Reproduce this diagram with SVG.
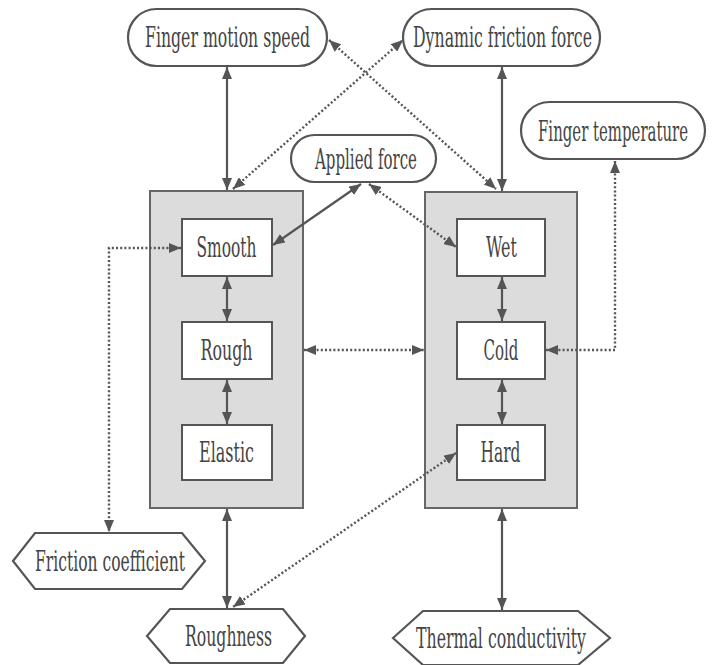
<svg xmlns="http://www.w3.org/2000/svg" width="719" height="665" viewBox="0 0 719 665">
<style>
.pill{fill:#fff;stroke:#555;stroke-width:2.2}
.grp{fill:#dcdcdc;stroke:#666;stroke-width:2}
.box{fill:#fff;stroke:#555;stroke-width:2}
.hex{fill:#fff;stroke:#555;stroke-width:2.2}
.t{font-family:"DejaVu Serif","Liberation Serif",serif;font-size:27px;fill:#444;text-anchor:middle}
.s{fill:none;stroke:#555;stroke-width:2.2}
.d{fill:none;stroke:#555;stroke-width:2.4;stroke-dasharray:2 2.2}
</style>
<defs>
<marker id="ah" viewBox="0 0 12 10" refX="12" refY="5" markerWidth="12" markerHeight="10" markerUnits="userSpaceOnUse" orient="auto-start-reverse">
<path d="M0,0 L12,5 L0,10 z" fill="#555"/>
</marker>
</defs>
<rect width="719" height="665" fill="#fff"/>

<g id="left-group"><rect class="grp" x="150" y="191" width="153" height="317"/></g>
<g id="right-group"><rect class="grp" x="425" y="192" width="152" height="316"/></g>

<g id="connectors">
<line class="s" x1="227" y1="67" x2="227" y2="190" marker-start="url(#ah)" marker-end="url(#ah)"/>
<line class="s" x1="502" y1="67" x2="502" y2="191" marker-start="url(#ah)" marker-end="url(#ah)"/>
<line class="d" x1="329" y1="40" x2="496" y2="189" marker-start="url(#ah)" marker-end="url(#ah)"/>
<line class="d" x1="233" y1="189" x2="403" y2="40" marker-start="url(#ah)" marker-end="url(#ah)"/>
<line class="s" x1="361" y1="184" x2="273" y2="245" marker-start="url(#ah)" marker-end="url(#ah)"/>
<line class="d" x1="369" y1="184" x2="456" y2="247" marker-start="url(#ah)" marker-end="url(#ah)"/>
<line class="s" x1="227" y1="277" x2="227" y2="321" marker-start="url(#ah)" marker-end="url(#ah)"/>
<line class="s" x1="227" y1="380" x2="227" y2="424" marker-start="url(#ah)" marker-end="url(#ah)"/>
<line class="s" x1="502" y1="277" x2="502" y2="321" marker-start="url(#ah)" marker-end="url(#ah)"/>
<line class="s" x1="502" y1="380" x2="502" y2="424" marker-start="url(#ah)" marker-end="url(#ah)"/>
<line class="d" x1="304" y1="350" x2="424" y2="350" marker-start="url(#ah)" marker-end="url(#ah)"/>
<path class="d" d="M181,248 L109,248 L109,532" marker-start="url(#ah)" marker-end="url(#ah)"/>
<path class="d" d="M615,161 L615,350 L546,350" marker-start="url(#ah)" marker-end="url(#ah)"/>
<line class="s" x1="227" y1="509" x2="227" y2="608" marker-start="url(#ah)" marker-end="url(#ah)"/>
<line class="s" x1="502" y1="509" x2="502" y2="610" marker-start="url(#ah)" marker-end="url(#ah)"/>
<line class="d" x1="456" y1="453" x2="233" y2="607" marker-start="url(#ah)" marker-end="url(#ah)"/>
</g>

<g id="finger-motion-speed"><rect class="pill" x="128" y="9" width="199" height="57" rx="28.5"/><text class="t" x="227.5" y="47" textLength="165" lengthAdjust="spacingAndGlyphs">Finger motion speed</text></g>
<g id="dynamic-friction-force"><rect class="pill" x="403" y="9" width="197" height="57" rx="28.5"/><text class="t" x="502.5" y="47" textLength="179" lengthAdjust="spacingAndGlyphs">Dynamic friction force</text></g>
<g id="finger-temperature"><rect class="pill" x="521" y="102" width="184" height="57" rx="28.5"/><text class="t" transform="translate(613,141) scale(0.5208,1)" x="0" y="0" textLength="288" lengthAdjust="spacingAndGlyphs">Finger temperature</text></g>
<g id="applied-force"><rect class="pill" x="291" y="135" width="145" height="47" rx="23.5"/><text class="t" x="366" y="169" textLength="102" lengthAdjust="spacingAndGlyphs">Applied force</text></g>

<g id="smooth"><rect class="box" x="182" y="219" width="90" height="57"/><text class="t" x="226.5" y="257" textLength="60" lengthAdjust="spacingAndGlyphs">Smooth</text></g>
<g id="rough"><rect class="box" x="182" y="322" width="90" height="57"/><text class="t" x="226.5" y="360" textLength="52" lengthAdjust="spacingAndGlyphs">Rough</text></g>
<g id="elastic"><rect class="box" x="182" y="425" width="90" height="55"/><text class="t" x="226.5" y="462" textLength="55" lengthAdjust="spacingAndGlyphs">Elastic</text></g>
<g id="wet"><rect class="box" x="457" y="219" width="88" height="57"/><text class="t" x="501.5" y="257" textLength="31" lengthAdjust="spacingAndGlyphs">Wet</text></g>
<g id="cold"><rect class="box" x="457" y="322" width="88" height="57"/><text class="t" x="501" y="360" textLength="35" lengthAdjust="spacingAndGlyphs">Cold</text></g>
<g id="hard"><rect class="box" x="457" y="425" width="88" height="55"/><text class="t" x="500.5" y="462" textLength="40" lengthAdjust="spacingAndGlyphs">Hard</text></g>

<g id="friction-coefficient"><polygon class="hex" points="13,561 35,533 182,533 205,561 182,589 35,589"/><text class="t" x="110" y="571" textLength="150" lengthAdjust="spacingAndGlyphs">Friction coefficient</text></g>
<g id="roughness"><polygon class="hex" points="147,636 170,609 283,609 305,636 283,663 170,663"/><text class="t" x="228.5" y="646" textLength="87" lengthAdjust="spacingAndGlyphs">Roughness</text></g>
<g id="thermal-conductivity"><polygon class="hex" points="393,638 423,611 578,611 610,638 578,665 423,665"/><text class="t" x="501" y="648" textLength="170" lengthAdjust="spacingAndGlyphs">Thermal conductivity</text></g>
</svg>
